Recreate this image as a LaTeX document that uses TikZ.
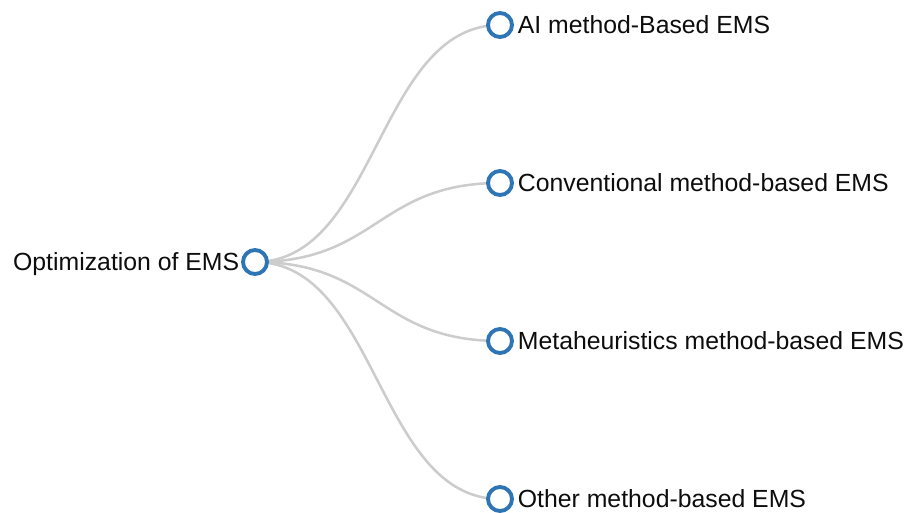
\documentclass[tikz,border=0pt]{standalone}
\usepackage{fontspec}
\setmainfont{Liberation Sans}
\usetikzlibrary{positioning}
\definecolor{nodeblue}{RGB}{46,117,182}
\definecolor{linkgray}{RGB}{204,204,204}
\tikzset{
  dot/.style={circle,draw=nodeblue,line width=2.9pt,fill=white,minimum size=18pt,inner sep=0pt},
  link/.style={draw=linkgray,line width=1.9pt},
  lbl/.style={inner sep=0pt,font=\fontsize{18.6pt}{22pt}\selectfont,text=black!95,yshift=-6.5pt}
}
\begin{document}
\begin{tikzpicture}[x=0.75pt,y=-0.75pt]
      \useasboundingbox (0,0) rectangle (907,513);
      \coordinate (r) at (255,262);
      \coordinate (a) at (500,25);
      \coordinate (b) at (500,183);
      \coordinate (c) at (500,341);
      \coordinate (d) at (500,499);
      \coordinate (mid) at (377.5,0);
      \foreach \k in {a,b,c,d}
        \draw[link] (r) .. controls (mid |- r) and (mid |- \k) .. (\k);
      \node[dot] (root) at (r) {};
      \node[dot] (ai) at (a) {};
      \node[dot] (conv) at (b) {};
      \node[dot] (meta) at (c) {};
      \node[dot] (other) at (d) {};
      \node[lbl,left=1.2pt of root,anchor=base east] {Optimization of EMS};
      \node[lbl,right=2.8pt of ai,anchor=base west] {AI method-Based EMS};
      \node[lbl,right=2.8pt of conv,anchor=base west] {Conventional method-based EMS};
      \node[lbl,right=2.8pt of meta,anchor=base west] {Metaheuristics method-based EMS};
      \node[lbl,right=2.8pt of other,anchor=base west] {Other method-based EMS};
\end{tikzpicture}
\end{document}
